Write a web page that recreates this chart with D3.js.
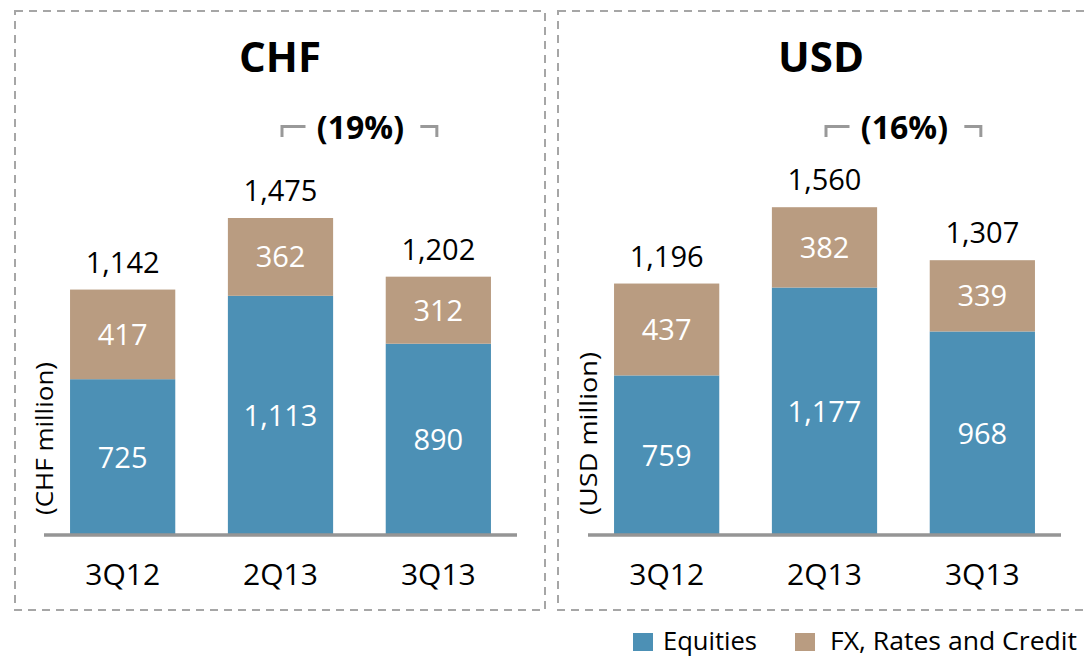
<!DOCTYPE html>
<html><head><meta charset="utf-8">
<script src="https://cdn.jsdelivr.net/npm/d3@7"></script>
<style>body{margin:0;background:#fff;} svg{display:block;} text{font-family:"Open Sans",sans-serif;}</style>
</head><body>
<svg id="c" width="1084" height="657"></svg>
<script>
const categories = ["3Q12", "2Q13", "3Q13"];
const chfEquities = [725, 1113, 890];
const chfFx = [417, 362, 312];
const chfTotals = [1142, 1475, 1202];
const usdEquities = [759, 1177, 968];
const usdFx = [437, 382, 339];
const usdTotals = [1196, 1560, 1307];
const panelTitles = ["CHF", "USD"];
const changeLabels = ["(19%)", "(16%)"];
const yLabels = ["(CHF million)", "(USD million)"];
const seriesNames = ["Equities", "FX, Rates and Credit"];
const colors = {eq: "#4C90B5", fx: "#B99C81"};

const svg = d3.select("#c");
const fmt = d3.format(",");

const panels = [
  {title: panelTitles[0], change: changeLabels[0], ylab: yLabels[0], eq: chfEquities, fx: chfFx, tot: chfTotals,
   box: [15, 11, 545, 610], x0: 44, x1: 517, yTop: 218, ylabX: 45, ylabLen: 153},
  {title: panelTitles[1], change: changeLabels[1], ylab: yLabels[1], eq: usdEquities, fx: usdFx, tot: usdTotals,
   box: [558, 11, 1095, 610], x0: 588, x1: 1061, yTop: 207, ylabX: 589, ylabLen: 163}
];

const baseY = 535;

panels.forEach(p => {
  const g = svg.append("g");
  g.append("rect").attr("x", p.box[0]).attr("y", p.box[1])
    .attr("width", p.box[2]-p.box[0]).attr("height", p.box[3]-p.box[1])
    .attr("fill", "none").attr("stroke", "#a6a6a6").attr("stroke-width", 2)
    .attr("stroke-dasharray", "8,6");

  const x = d3.scaleBand().domain(categories).range([p.x0, p.x1])
    .paddingInner(1/3).paddingOuter(0.165);
  const y = d3.scaleLinear().domain([0, d3.max(p.tot)]).range([baseY, p.yTop]);

  const data = categories.map((c, i) => ({c, eq: p.eq[i], fx: p.fx[i], tot: p.tot[i]}));

  g.selectAll(".eq").data(data).join("rect")
    .attr("x", d => x(d.c)).attr("width", x.bandwidth())
    .attr("y", d => y(d.eq)).attr("height", d => y(0) - y(d.eq))
    .attr("fill", colors.eq);
  g.selectAll(".fx").data(data).join("rect")
    .attr("x", d => x(d.c)).attr("width", x.bandwidth())
    .attr("y", d => y(d.eq + d.fx)).attr("height", d => y(d.eq) - y(d.eq + d.fx))
    .attr("fill", colors.fx);

  g.selectAll(".leq").data(data).join("text")
    .attr("x", d => x(d.c) + x.bandwidth()/2)
    .attr("y", d => (y(0) + y(d.eq))/2).attr("dy", "0.36em")
    .attr("text-anchor", "middle").attr("fill", "#fff").attr("font-size", 29)
    .text(d => fmt(d.eq));
  g.selectAll(".lfx").data(data).join("text")
    .attr("x", d => x(d.c) + x.bandwidth()/2)
    .attr("y", d => (y(d.eq) + y(d.eq + d.fx))/2).attr("dy", "0.36em")
    .attr("text-anchor", "middle").attr("fill", "#fff").attr("font-size", 29)
    .text(d => fmt(d.fx));
  g.selectAll(".ltot").data(data).join("text")
    .attr("x", d => x(d.c) + x.bandwidth()/2)
    .attr("y", d => y(d.tot) - 17)
    .attr("text-anchor", "middle").attr("fill", "#000").attr("font-size", 29)
    .text(d => fmt(d.tot));

  g.append("line").attr("x1", p.x0).attr("x2", p.x1).attr("y1", baseY).attr("y2", baseY)
    .attr("stroke", "#959595").attr("stroke-width", 3.5);

  const ax = d3.axisBottom(x).tickSize(0).tickPadding(0);
  const axG = g.append("g").attr("transform", `translate(0,${baseY})`).call(ax);
  axG.select(".domain").remove();
  axG.selectAll("text").attr("y", 50).attr("dy", 0).attr("font-size", 30)
    .attr("font-family", "Open Sans").attr("fill", "#000");

  const cx = (p.box[0] + Math.min(p.box[2], 1084)) / 2;
  g.append("text").attr("x", cx).attr("y", 72).attr("text-anchor", "middle")
    .attr("font-size", 42).attr("font-weight", "bold").attr("fill", "#000").text(p.title);

  const c1 = x(categories[1]) + x.bandwidth()/2;
  const c2 = x(categories[2]) + x.bandwidth()/2;
  const by = 126.5;
  g.append("path").attr("d", `M${c1+1.5},137 V${by} H${c1+25}`)
    .attr("fill", "none").attr("stroke", "#999").attr("stroke-width", 3);
  g.append("path").attr("d", `M${c2-18},${by} H${c2-1.5} V137`)
    .attr("fill", "none").attr("stroke", "#999").attr("stroke-width", 3);
  g.append("text").attr("x", (c1 + c2)/2 + 1).attr("y", 139).attr("text-anchor", "middle")
    .attr("font-size", 32).attr("font-weight", "bold").attr("fill", "#000").text(p.change);

  g.append("text").attr("transform", `translate(${p.ylabX + 8},515) rotate(-90)`)
    .attr("text-anchor", "start").attr("font-size", 24).attr("fill", "#000")
    .attr("textLength", p.ylabLen).attr("lengthAdjust", "spacingAndGlyphs").text(p.ylab);
});

const leg = svg.append("g");
const legItems = [
  {name: seriesNames[0], color: colors.eq, x: 633, tx: 663, len: 94},
  {name: seriesNames[1], color: colors.fx, x: 795, tx: 830, len: 247}
];
legItems.forEach(it => {
  leg.append("rect").attr("x", it.x).attr("y", 633).attr("width", 20).attr("height", 18).attr("fill", it.color);
  leg.append("text").attr("x", it.tx).attr("y", 650).attr("font-size", 25).attr("fill", "#000")
    .attr("textLength", it.len).attr("lengthAdjust", "spacingAndGlyphs").text(it.name);
});
</script>
</body></html>
